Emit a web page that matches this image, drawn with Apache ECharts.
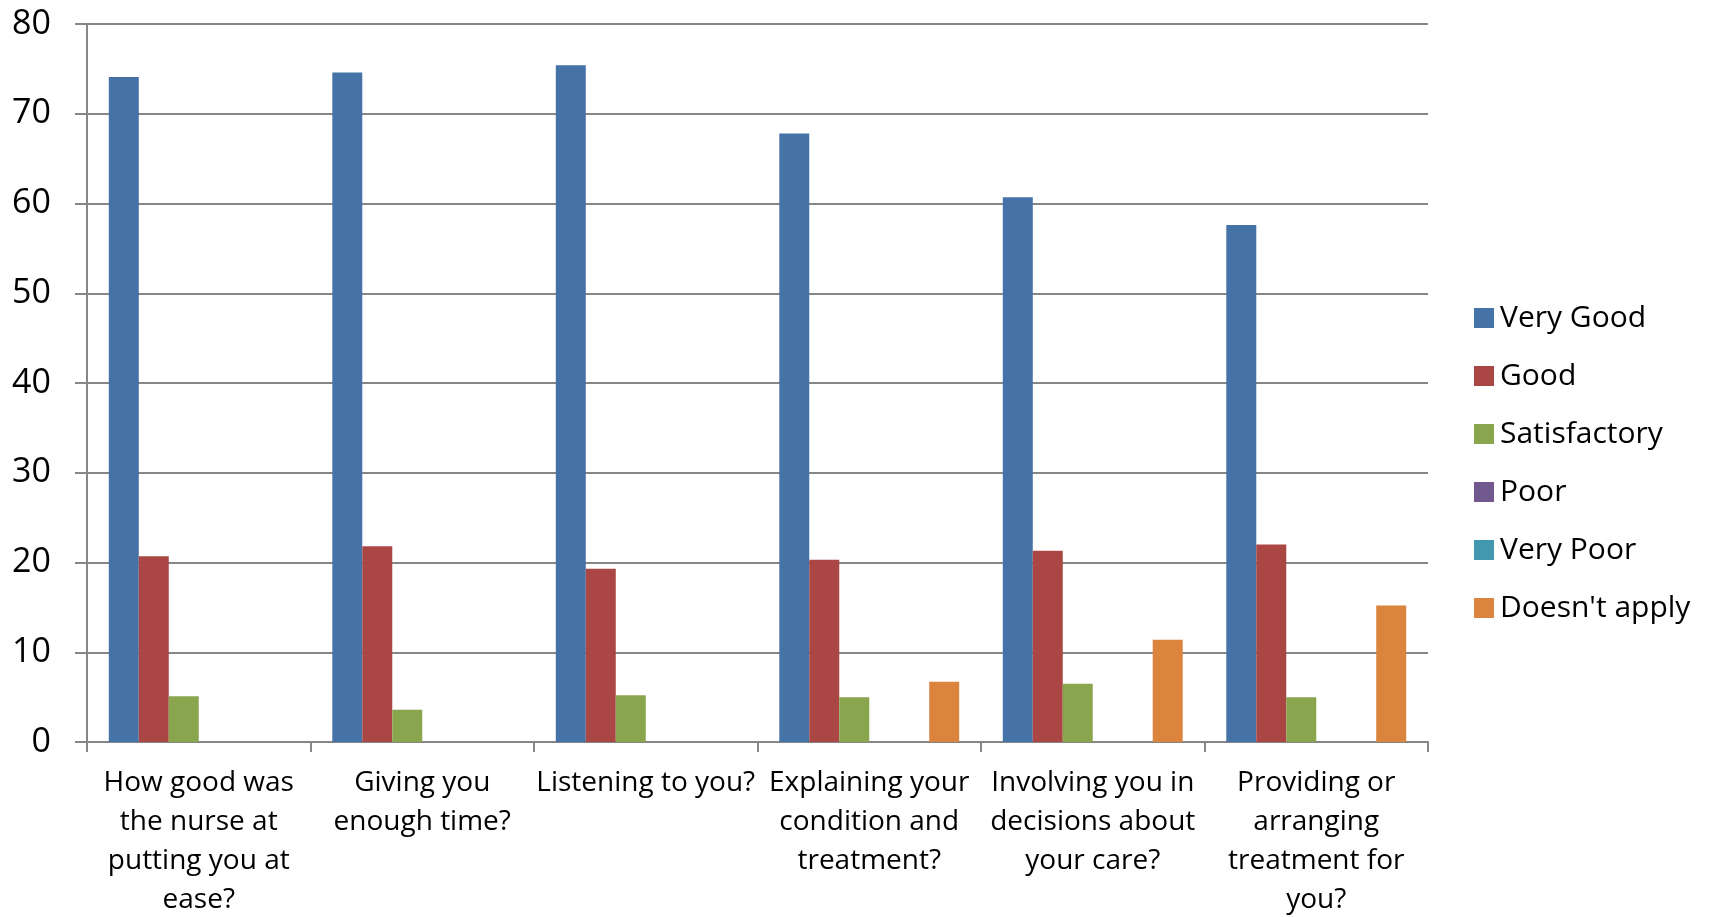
<!DOCTYPE html>
<html>
<head>
<meta charset="utf-8">
<script src="https://cdn.jsdelivr.net/npm/echarts@6/dist/echarts.min.js"></script>
<style>
html,body{margin:0;padding:0;background:#fff;}
#chart{width:1709px;height:917px;}
</style>
</head>
<body>
<div id="chart"></div>
<script>
const categories = [
  "How good was\nthe nurse at\nputting you at\nease?",
  "Giving you\nenough time?",
  "Listening to you?",
  "Explaining your\ncondition and\ntreatment?",
  "Involving you in\ndecisions about\nyour care?",
  "Providing or\narranging\ntreatment for\nyou?"
];
const seriesNames = ["Very Good", "Good", "Satisfactory", "Poor", "Very Poor", "Doesn't apply"];
const veryGood     = [74.1, 74.6, 75.4, 67.8, 60.7, 57.6];
const good         = [20.7, 21.8, 19.3, 20.3, 21.3, 22.0];
const satisfactory = [5.1, 3.6, 5.2, 5.0, 6.5, 5.0];
const poor         = [0, 0, 0, 0, 0, 0];
const veryPoor     = [0, 0, 0, 0, 0, 0];
const doesntApply  = [0, 0, 0, 6.7, 11.4, 15.2];
const yTicks = [0, 10, 20, 30, 40, 50, 60, 70, 80];

const colors = ["#4572A7", "#AA4643", "#89A54E", "#71588F", "#4198AF", "#DB843D"];
const values = [veryGood, good, satisfactory, poor, veryPoor, doesntApply];
const font = "'Open Sans', sans-serif";

const chart = echarts.init(document.getElementById('chart'));
chart.setOption({
  animation: false,
  color: colors,
  grid: { left: 87, right: 281, top: 24, bottom: 175, containLabel: false, outerBoundsMode: 'none' },
  legend: {
    orient: 'vertical',
    left: 1469,
    top: 298,
    itemWidth: 20,
    itemHeight: 20,
    itemGap: 28,
    icon: 'rect',
    data: seriesNames,
    textStyle: { fontFamily: font, fontSize: 30, color: '#000', lineHeight: 20, padding: [0, 0, 0, 1] }
  },
  xAxis: {
    type: 'category',
    data: categories,
    axisLine: { lineStyle: { color: '#868686', width: 2 } },
    axisTick: { show: true, length: 10, lineStyle: { color: '#868686', width: 2 } },
    axisLabel: { interval: 0, fontFamily: font, fontSize: 28, lineHeight: 39, color: '#000', margin: 22 },
    splitLine: { show: false }
  },
  yAxis: {
    type: 'value',
    min: yTicks[0],
    max: yTicks[yTicks.length - 1],
    interval: 10,
    axisLine: { show: true, lineStyle: { color: '#868686', width: 2 } },
    axisTick: { show: true, length: 12, lineStyle: { color: '#868686', width: 2 } },
    axisLabel: { fontFamily: font, fontSize: 34, color: '#000', margin: 36 },
    splitLine: { lineStyle: { color: '#868686', width: 2 } }
  },
  series: seriesNames.map((name, i) => ({
    name: name,
    type: 'bar',
    data: values[i],
    barGap: '0%',
    barCategoryGap: '19.5%',
    itemStyle: { color: colors[i] }
  }))
});
</script>
</body>
</html>
